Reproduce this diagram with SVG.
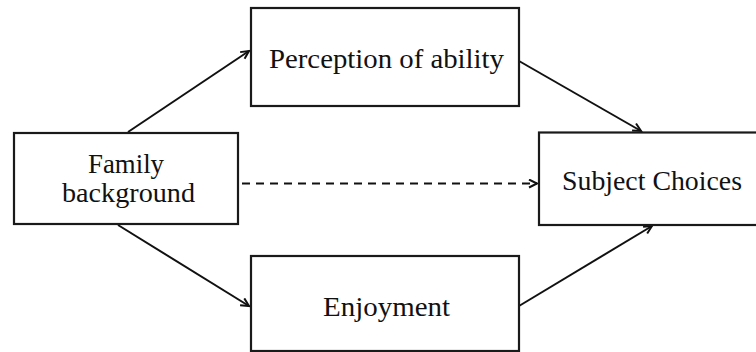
<svg xmlns="http://www.w3.org/2000/svg" width="756" height="352" viewBox="0 0 756 352">
<style>
.box{fill:#fff;stroke:#1a1a1a;stroke-width:2.2}
.lbl{font-family:"Liberation Serif","DejaVu Serif",serif;font-size:27px;fill:#111;text-anchor:middle}
.conn{stroke:#111;stroke-width:2;fill:none}
.dash{stroke-dasharray:8 6}
</style>
<defs>
<marker id="arr" markerWidth="12" markerHeight="12" refX="9" refY="5" orient="auto" markerUnits="userSpaceOnUse">
<path d="M1,1 L9,5 L1,9" fill="none" stroke="#111" stroke-width="2"/>
</marker>
</defs>
<rect width="756" height="352" fill="#fff"/>
<g id="connectors">
<line class="conn" x1="128" y1="132" x2="249" y2="51" marker-end="url(#arr)"/>
<line class="conn" x1="118" y1="225" x2="249" y2="306" marker-end="url(#arr)"/>
<line class="conn" x1="519" y1="61" x2="641" y2="131" marker-end="url(#arr)"/>
<line class="conn" x1="519" y1="306" x2="652" y2="226" marker-end="url(#arr)"/>
<line class="conn dash" x1="242" y1="183.5" x2="537" y2="183.5" marker-end="url(#arr)"/>
</g>
<g id="family">
<rect class="box" x="14" y="133" width="224" height="91"/>
<text class="lbl" x="126" y="173" textLength="76" lengthAdjust="spacingAndGlyphs">Family</text>
<text class="lbl" x="128.5" y="202" textLength="133" lengthAdjust="spacingAndGlyphs">background</text>
</g>
<g id="perception">
<rect class="box" x="251" y="8" width="268" height="98"/>
<text class="lbl" x="386.5" y="68" textLength="235" lengthAdjust="spacingAndGlyphs">Perception of ability</text>
</g>
<g id="subject">
<rect class="box" x="539" y="132.5" width="230" height="92.5"/>
<text class="lbl" x="652" y="190" textLength="180" lengthAdjust="spacingAndGlyphs">Subject Choices</text>
</g>
<g id="enjoyment">
<rect class="box" x="251" y="256" width="268" height="95"/>
<text class="lbl" x="386.5" y="316" textLength="127" lengthAdjust="spacingAndGlyphs">Enjoyment</text>
</g>
</svg>
